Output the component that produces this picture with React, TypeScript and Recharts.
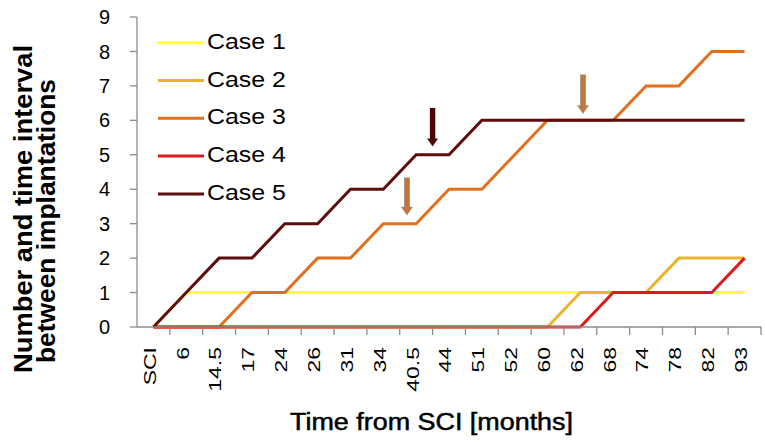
import React from 'react';
import { LineChart, Line, XAxis, YAxis, ReferenceLine } from 'recharts';

// ---- data ----
const categories = ['SCI', '6', '14.5', '17', '24', '26', '31', '34', '40.5', '44', '51', '52', '60', '62', '68', '74', '78', '82', '93'];
const case1 = [0, 1, 1, 1, 1, 1, 1, 1, 1, 1, 1, 1, 1, 1, 1, 1, 1, 1, 1];
const case2 = [0, 0, 0, 0, 0, 0, 0, 0, 0, 0, 0, 0, 0, 1, 1, 1, 2, 2, 2];
const case3 = [0, 0, 0, 1, 1, 2, 2, 3, 3, 4, 4, 5, 6, 6, 6, 7, 7, 8, 8];
const case4 = [0, 0, 0, 0, 0, 0, 0, 0, 0, 0, 0, 0, 0, 0, 1, 1, 1, 1, 2];
const case5 = [0, 1, 2, 2, 3, 3, 4, 4, 5, 5, 6, 6, 6, 6, 6, 6, 6, 6, 6];
const seriesNames = ['Case 1', 'Case 2', 'Case 3', 'Case 4', 'Case 5'];
const seriesKeys = ['c1', 'c2', 'c3', 'c4', 'c5'];
const seriesColors = ['#FFFF3A', '#EBB42E', '#E2701F', '#DC1C1C', '#5E0C0C'];
const yTicks = [0, 1, 2, 3, 4, 5, 6, 7, 8, 9];

// arrow annotations (category, shift in band widths, top value, bottom value)
const arrowCats = ['40.5', '40.5', '62'];
const arrowShift = [0.5, -0.28, 0.08];
const arrowTop = [6.36, 4.33, 7.32];
const arrowBottom = [5.24, 3.25, 6.2];
const arrowColors = ['#4A0808', '#C4763A', '#C4763A'];

const yTitle1 = 'Number and time interval';
const yTitle2 = 'between implantations';
const xTitle = 'Time from SCI [months]';

// ---- layout ----
const W = 765;
const H = 442;
const margin = { top: 17, right: 4, left: 77, bottom: 35 };
const Y_AXIS_W = 60;
const X_AXIS_H = 80;
const plotW = W - margin.left - margin.right - Y_AXIS_W;
const bandW = plotW / categories.length;
const FONT = '"Liberation Sans", Arial, Helvetica, sans-serif';
const AXIS_COLOR = '#8c8c8c';

const allSeries = [case1, case2, case3, case4, case5];
const data = categories.map((c, i) => {
  const row: any = { cat: c };
  seriesKeys.forEach((k, s) => {
    row[k] = allSeries[s][i];
  });
  return row;
});

const TICK_SIZE = 8;

const XTick = (props: any) => {
  const { x, y, payload } = props;
  const off = payload && typeof payload.offset === 'number' && payload.offset > 0 ? payload.offset : bandW / 2;
  const axisY = y - TICK_SIZE;
  return (
    <g>
      <line x1={x + off} y1={axisY} x2={x + off} y2={axisY + TICK_SIZE} stroke={AXIS_COLOR} strokeWidth={1.3} />
      <text
        transform={`translate(${x - 3.5},${axisY + 20}) rotate(-90) scale(1.35,1)`}
        textAnchor="end"
        dominantBaseline="central"
        fontSize={17}
        fontFamily={FONT}
        fill="#000"
      >
        {payload.value}
      </text>
    </g>
  );
};

const makeArrow = (i: number) => (p: any) => {
  const x = p.x1 + arrowShift[i] * bandW;
  const top = Math.min(p.y1, p.y2);
  const bottom = Math.max(p.y1, p.y2);
  const headH = 8;
  const color = arrowColors[i];
  const stroke = i === 0 ? 'none' : '#9a8f88';
  return (
    <g>
      <rect x={x - 2.7} y={top} width={5.4} height={bottom - top - headH + 1} fill={color} stroke={stroke} strokeWidth={0.6} />
      <polygon points={`${x - 5.5},${bottom - headH} ${x + 5.5},${bottom - headH} ${x},${bottom}`} fill={color} stroke={stroke} strokeWidth={0.6} />
    </g>
  );
};

export default function App() {
  return (
    <div style={{ position: 'absolute', left: 0, top: 0, width: W, height: H, background: '#fff' }}>
      <LineChart width={W} height={H} data={data} margin={margin}>
        <XAxis
          dataKey="cat"
          scale="band"
          interval={0}
          height={X_AXIS_H}
          tickLine={false}
          tickSize={TICK_SIZE}
          tickMargin={0}
          axisLine={{ stroke: AXIS_COLOR, strokeWidth: 1.3 }}
          tick={<XTick />}
        />
        <YAxis
          width={Y_AXIS_W}
          domain={[0, 9]}
          ticks={yTicks}
          interval={0}
          tickSize={7}
          tickMargin={20}
          axisLine={{ stroke: AXIS_COLOR, strokeWidth: 1.3 }}
          tickLine={{ stroke: AXIS_COLOR, strokeWidth: 1.3 }}
          tick={{ fontSize: 20, fill: '#000', fontFamily: FONT }}
        />
        {seriesKeys.map((k, s) => (
          <Line
            key={k}
            type="linear"
            dataKey={k}
            name={seriesNames[s]}
            stroke={seriesColors[s]}
            strokeWidth={3}
            dot={false}
            activeDot={false}
            isAnimationActive={false}
          />
        ))}
        {arrowCats.map((c, i) => (
          <ReferenceLine
            key={'arrow' + i}
            segment={[
              { x: c, y: arrowTop[i] },
              { x: c, y: arrowBottom[i] },
            ]}
            ifOverflow="visible"
            shape={makeArrow(i)}
          />
        ))}
      </LineChart>
      <svg
        width={W}
        height={H}
        style={{ position: 'absolute', left: 0, top: 0, pointerEvents: 'none' }}
      >
        {seriesNames.map((n, s) => {
          const ly = 42.7 + 37.8 * s;
          return (
            <g key={n}>
              <line x1={158} y1={ly} x2={204} y2={ly} stroke={seriesColors[s]} strokeWidth={3} />
              <text
                x={207}
                y={ly + 6}
                fontSize={22}
                fontFamily={FONT}
                fill="#000"
                textLength={79}
                lengthAdjust="spacingAndGlyphs"
              >
                {n}
              </text>
            </g>
          );
        })}
        <text
          transform="translate(32,209) rotate(-90)"
          textAnchor="middle"
          fontSize={26}
          fontWeight="bold"
          fontFamily={FONT}
          fill="#000"
          textLength={328}
          lengthAdjust="spacingAndGlyphs"
        >
          {yTitle1}
        </text>
        <text
          transform="translate(55,221) rotate(-90)"
          textAnchor="middle"
          fontSize={26}
          fontWeight="bold"
          fontFamily={FONT}
          fill="#000"
          textLength={284}
          lengthAdjust="spacingAndGlyphs"
        >
          {yTitle2}
        </text>
        <text
          x={431.5}
          y={430}
          textAnchor="middle"
          fontSize={23}
          fontFamily={FONT}
          fill="#000"
          stroke="#000"
          strokeWidth={0.5}
          textLength={283}
          lengthAdjust="spacingAndGlyphs"
        >
          {xTitle}
        </text>
      </svg>
    </div>
  );
}
